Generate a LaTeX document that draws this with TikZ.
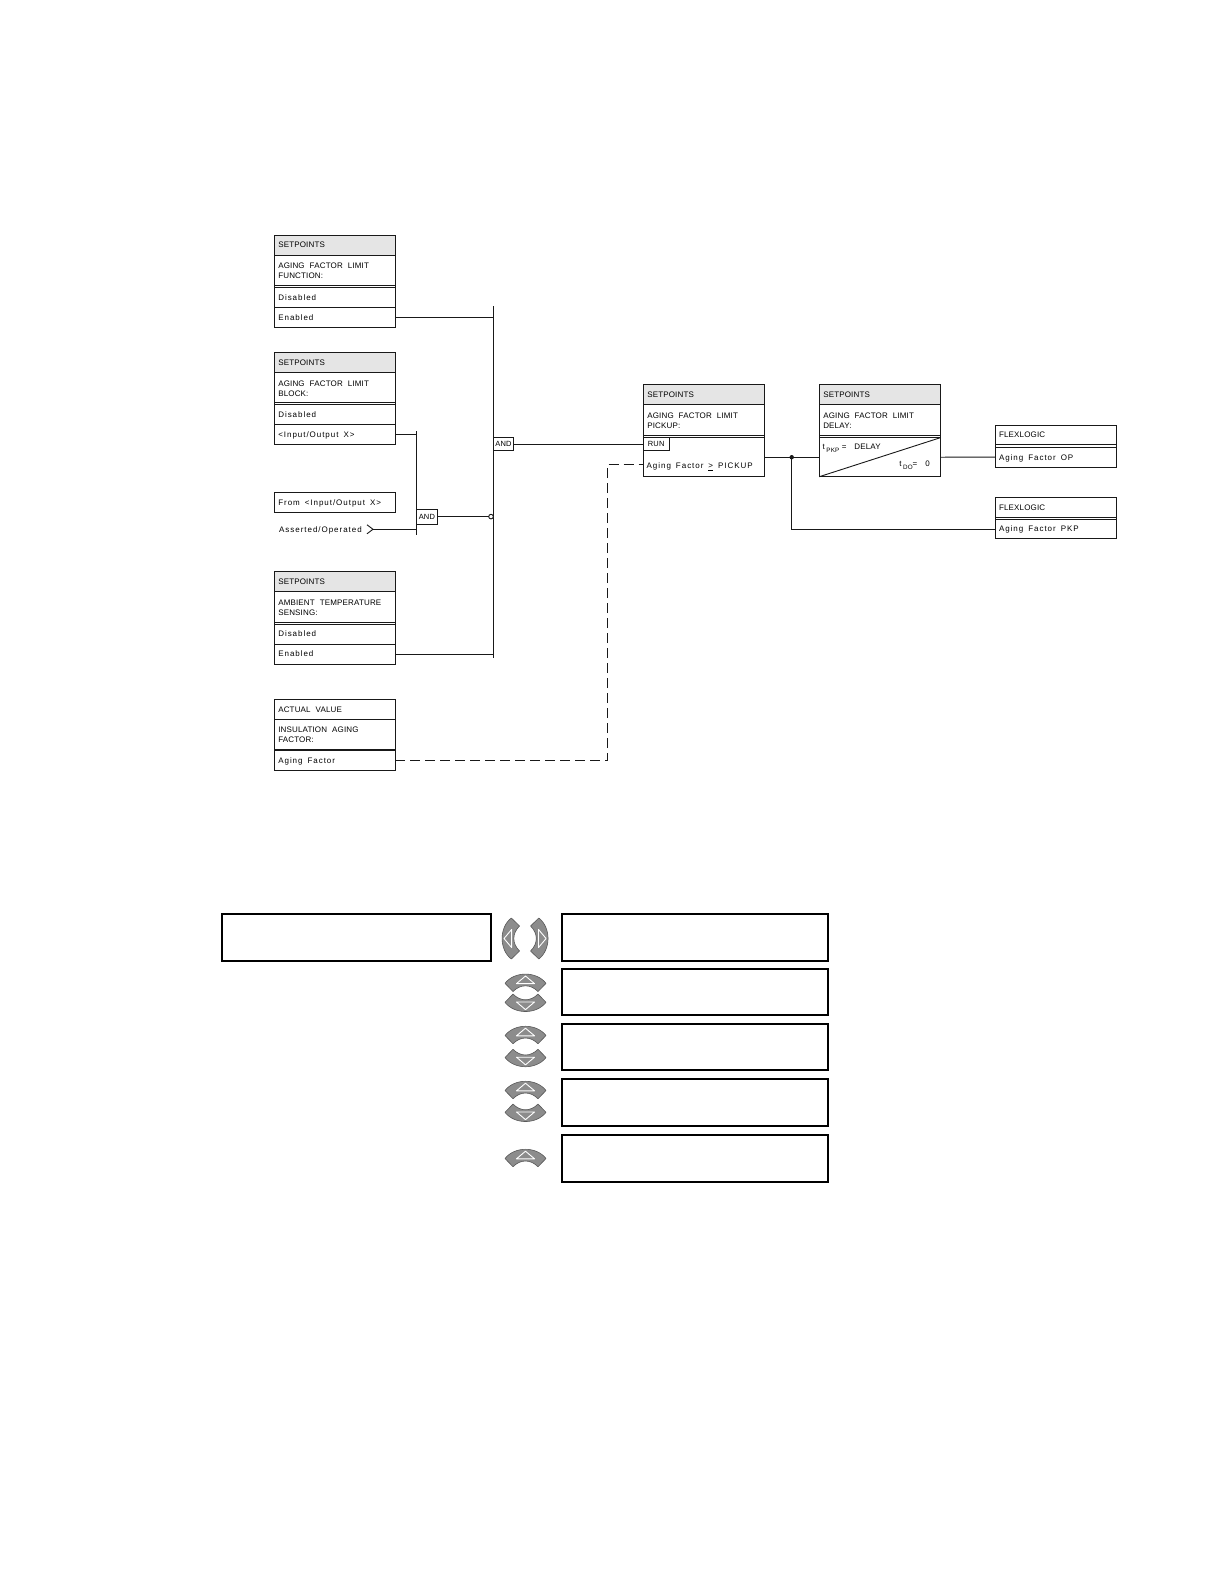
\documentclass[tikz,border=0pt]{standalone}
\usepackage{fontspec}
\setmainfont{Liberation Sans}[LetterSpace=2]
\newfontfamily\lcf{Liberation Sans}[LetterSpace=12]
\newcommand\wsp{\hspace{5pt}}
\newcommand\subt[1]{\raisebox{-2.6pt}{\fontsize{6.3}{7}\selectfont #1}}
\begin{document}
\begin{tikzpicture}[x=1pt,y=-1pt,
  ln/.style={draw=black!90,line width=0.9pt},
  capf/.style={font=\fontsize{8}{10}\selectfont},
  lcft/.style={font=\lcf\fontsize{8}{10}\selectfont},
  cell/.style={ln,capf,text=black,anchor=north west,outer sep=0pt,minimum height=20pt,text width=113pt,inner xsep=4pt,inner ysep=0pt,align=left,text height=5.8pt,text depth=0pt},
  hcell/.style={cell,fill=black!10},
  rcell/.style={cell,lcft},
  ttl/.style={ln,capf,text=black,anchor=north west,outer sep=0pt,minimum height=32.3pt,text width=113pt,inner xsep=4pt,inner ysep=0pt,align=left},
  body/.style={ln,anchor=north west,outer sep=0pt,inner sep=0pt,minimum width=121pt,minimum height=39pt},
  gate/.style={ln,font=\fontsize{7.5}{9}\selectfont,text=black,inner sep=0pt,outer sep=0pt,minimum width=20.4pt,minimum height=13pt,text height=5.4pt,text depth=0pt,anchor=west},
  dsh/.style={ln,dash pattern=on 10pt off 5pt},
  scr/.style={draw=black,line width=2pt,anchor=north west,minimum width=266.3pt,minimum height=46.7pt,inner sep=0pt,outer sep=0pt},
  navup/.pic={
    \path[fill=black!45,draw=black!65,line width=0.6pt,line join=round]
      (-20.5,0.5) .. controls (-11,-11.8) and (11,-11.8) .. (20.5,0.5)
      -- (12.5,8.75) .. controls (5,1.1) and (-5,1.1) .. (-12.5,8.75) -- cycle;
    \draw[white,line width=0.9pt,line join=round] (-9,0.8) -- (9,0.8) -- (0,-6.8) -- cycle;
  }
]
\fill[white] (0,0) rectangle (1224,1584);
\useasboundingbox (0,0) rectangle (1224,1584);

% ---- Box 1: function
\node[hcell] (b1h) at (274.3,235) {SETPOINTS};
\node[ttl] (b1t) at (b1h.south west) {AGING\wsp FACTOR\wsp LIMIT\\FUNCTION:};
\draw[ln] ([yshift=2pt]b1t.south west) -- ([yshift=2pt]b1t.south east);
\node[rcell] (b1a) at (b1t.south west) {Disabled};
\node[rcell] (b1b) at (b1a.south west) {Enabled};

% ---- Box 2: block
\node[hcell] (b2h) at (274.3,352.3) {SETPOINTS};
\node[ttl] (b2t) at (b2h.south west) {AGING\wsp FACTOR\wsp LIMIT\\BLOCK:};
\draw[ln] ([yshift=2pt]b2t.south west) -- ([yshift=2pt]b2t.south east);
\node[rcell] (b2a) at (b2t.south west) {Disabled};
\node[rcell] (b2b) at (b2a.south west) {<Input/Output\wsp X>};

% ---- From box and asserted
\node[rcell,minimum height=20.4pt] (frm) at (274.3,492.3) {From\wsp <Input/Output\wsp X>};
\node[lcft,text=black,anchor=base west,inner sep=0pt] (asr) at (279,532.2) {Asserted/Operated};
\coordinate (chv) at (373,529.3);
\draw[ln] (367,524.8) -- (chv) -- (367,533.8);

% ---- Box 4: ambient temperature
\node[hcell] (b4h) at (274.3,571.7) {SETPOINTS};
\node[ttl] (b4t) at (b4h.south west) {AMBIENT\wsp TEMPERATURE\\SENSING:};
\draw[ln] ([yshift=2pt]b4t.south west) -- ([yshift=2pt]b4t.south east);
\node[rcell] (b4a) at (b4t.south west) {Disabled};
\node[rcell] (b4b) at (b4a.south west) {Enabled};

% ---- Actual value box
\node[cell] (avh) at (274.3,699.3) {ACTUAL\wsp VALUE};
\node[ttl,minimum height=31.4pt] (avt) at (avh.south west) {INSULATION\wsp AGING\\FACTOR:};
\draw[ln] ([yshift=1.7pt]avt.south west) -- ([yshift=1.7pt]avt.south east);
\node[rcell] (ava) at (avt.south west) {Aging\wsp Factor};

% ---- Pickup box
\node[hcell] (pkh) at (643.3,384.3) {SETPOINTS};
\node[ttl,minimum height=33.4pt] (pkt) at (pkh.south west) {AGING\wsp FACTOR\wsp LIMIT\\PICKUP:};
\draw[ln] ([yshift=2pt]pkt.south west) -- ([yshift=2pt]pkt.south east);
\node[body] (pkb) at (pkt.south west) {};
\node[gate,anchor=north west,minimum width=25.7pt,minimum height=12.6pt] (run) at (pkb.north west) {RUN};
\node[lcft,text=black,anchor=base west,inner sep=0pt] (pkx) at (646.5,468.6) {Aging\wsp Factor\wsp \underline{>}\wsp PICKUP};

% ---- Delay box
\node[hcell] (dlh) at (819.3,384.3) {SETPOINTS};
\node[ttl,minimum height=33.4pt] (dlt) at (dlh.south west) {AGING\wsp FACTOR\wsp LIMIT\\DELAY:};
\draw[ln] ([yshift=2pt]dlt.south west) -- ([yshift=2pt]dlt.south east);
\node[body] (dlb) at (dlt.south west) {};
\draw[ln] (dlb.south west) -- (dlb.north east);
\node[capf,text=black,anchor=base west,inner sep=0pt] (tpk) at (822.5,449.8)
  {t\hspace{1.5pt}\subt{PKP}\hspace{2.5pt}=\hspace{8pt}DELAY};
\node[capf,text=black,anchor=base east,inner sep=0pt] (tdo) at (930,466.5)
  {t\hspace{1.5pt}\subt{DO}=\hspace{8pt}0};

% ---- FlexLogic boxes
\node[cell,minimum height=22.3pt,text depth=2.3pt] (foh) at (995,425) {FLEXLOGIC};
\draw[ln] ([yshift=2.6pt]foh.south west) -- ([yshift=2.6pt]foh.south east);
\node[rcell,minimum height=19.7pt] (foa) at (foh.south west) {Aging\wsp Factor\wsp OP};
\node[cell,minimum height=22pt,text depth=2.3pt] (fph) at (995,497.3) {FLEXLOGIC};
\draw[ln] ([yshift=2.3pt]fph.south west) -- ([yshift=2.3pt]fph.south east);
\node[rcell,minimum height=19.4pt] (fpa) at (fph.south west) {Aging\wsp Factor\wsp PKP};

% ---- Logic: buses and gates
\coordinate (bt) at (493.3,306);
\coordinate (bb) at (493.3,657.7);
\draw[ln] (bt) -- (bb);
\draw[ln] (b1b.east) -- (b1b.east -| bt);
\draw[ln] (b4b.east) -- (b4b.east -| bt);
\node[gate,minimum height=12.6pt] (and1) at (493.3,444) {AND};
\draw[ln] (and1.east) -- (run.west);

\coordinate (vt) at (416.7,431);
\coordinate (vb) at (416.7,535);
\draw[ln] (vt) -- (vb);
\draw[ln] (b2b.east) -- (b2b.east -| vt);
\draw[ln] (chv) -- (chv -| vt);
\node[gate,minimum height=14.7pt] (and2) at (416.7,516.6) {AND};
\node[circle,ln,fill=white,inner sep=0pt,outer sep=0pt,minimum size=4.6pt] (inv) at (491,516.6) {};
\draw[ln] (and2.east) -- (inv.west);

\coordinate (dc) at (607.7,464);
\draw[dsh] (ava.east) -| (dc) -- (dc -| pkb.west);

\draw[ln] (pkb.east) -- (dlb.west);
\coordinate (jn) at (791.7,457.2);
\fill[black!90] (jn) circle (2.2);
\draw[ln] (jn) |- (fpa.west);
\draw[ln] (dlb.east) -- (foa.west);

% ---- Bottom: display screens and keys
\node[scr,minimum width=268.7pt] (s0) at (222.3,914.3) {};
\node[scr] (s1) at (561.7,914.3) {};
\node[scr] (s2) at (561.7,968.7) {};
\node[scr] (s3) at (561.7,1023.5) {};
\node[scr] (s4) at (561.7,1079.3) {};
\node[scr] (s5) at (561.7,1135) {};

\pic[rotate=90] at (510.8,938.5) {navup};
\pic[rotate=-90] at (539.3,938.5) {navup};
\pic at (525.5,982.8) {navup};
\pic[yscale=-1] at (525.5,1002.8) {navup};
\pic at (525.5,1035) {navup};
\pic[yscale=-1] at (525.5,1058) {navup};
\pic at (525.5,1090) {navup};
\pic[yscale=-1] at (525.5,1112.8) {navup};
\pic at (525.5,1158) {navup};
\end{tikzpicture}
\end{document}
